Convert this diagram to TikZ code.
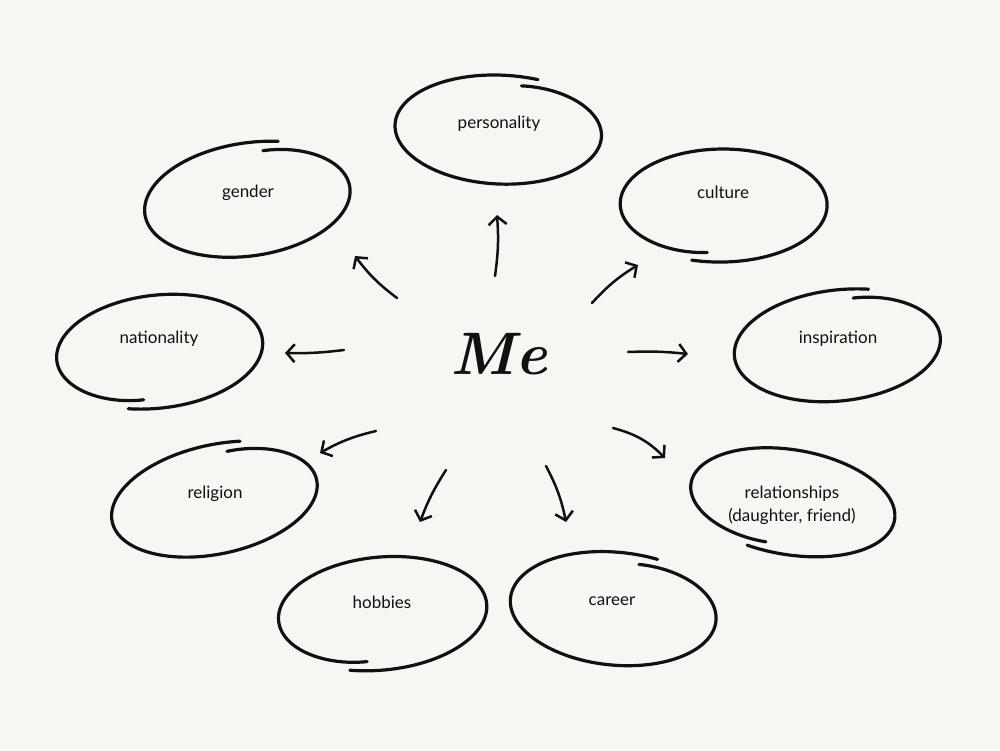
\documentclass[tikz,border=0pt]{standalone}
\usepackage{fontspec}
\usepackage{tikz}
\usetikzlibrary{arrows.meta}
\newfontfamily\topicfont{Lato}
\definecolor{paper}{RGB}{247,246,243}
\definecolor{ink}{RGB}{17,17,17}
\tikzset{
  loopline/.style={draw=ink, line width=3.2pt, line cap=round, line join=round},
  spoke/.style={draw=ink, line width=2.5pt, line cap=round, line join=round,
    -{Straight Barb[length=8pt,width=18pt,line width=2.5pt]}},
  topic/.style={font=\topicfont\fontsize{17}{23}\selectfont, text=ink, align=center},
}
% hand drawn loop: cx, cy, a, b, rot, start, end, start bulge, end bulge
\newcommand{\sketchloop}[9]{%
  \begin{scope}[shift={(#1,#2)}, rotate=#5]
    \draw[loopline] plot[domain=0:1, samples=160, variable=\u, smooth]
      ({(1+(#8)*(1-\u)^10+(#9)*\u^10)*#3*cos(#6+(#7-#6)*\u)},
       {(1+(#8)*(1-\u)^10+(#9)*\u^10)*#4*sin(#6+(#7-#6)*\u)});
  \end{scope}}

\begin{document}
\begin{tikzpicture}[x=1pt, y=1pt]
  \fill[paper] (0,0) rectangle (1000,750);
  \useasboundingbox (0,0) rectangle (1000,750);

  \node[text=ink, font=\fontsize{60}{64}\selectfont\bfseries\itshape] (me) at (499,396) {Me};

  \node[topic] (personality) at (499,626) {personality};
  \node[topic] (gender) at (248,557) {gender};
  \node[topic] (culture) at (723,558) {culture};
  \node[topic] (nationality) at (159,411) {nationality};
  \node[topic] (inspiration) at (838,411) {inspiration};
  \node[topic] (religion) at (215,256) {religion};
  \node[topic] (relationships) at (792,245) {relationships\\(daughter, friend)};
  \node[topic] (hobbies) at (382,148) {hobbies};
  \node[topic] (career) at (612,149) {career};

  \sketchloop{499}{620}{104}{54}{-3}{77}{-290}{-0.14}{0.03}
  \sketchloop{248}{550}{104}{56}{8}{76}{-291}{-0.14}{0.03}
  \sketchloop{723}{545}{104}{56}{0}{-107}{260}{0.03}{-0.14}
  \sketchloop{159}{399}{104}{56}{6}{-110}{257}{0.03}{-0.14}
  \sketchloop{838}{404}{104}{55}{6}{77}{-290}{-0.14}{0.03}
  \sketchloop{215}{250}{105}{54}{12}{76}{-290}{-0.14}{0.03}
  \sketchloop{792}{248}{104}{52}{-10}{-110}{258}{0.03}{-0.14}
  \sketchloop{382}{137}{105}{56}{5}{-110}{258}{0.03}{-0.14}
  \sketchloop{614}{141}{104}{56}{-6}{77}{-291}{-0.14}{0.03}

  \coordinate (personality-tail) at (495,474);
  \coordinate (personality-tip) at (497,535);
  \coordinate (gender-tail) at (397,452);
  \coordinate (gender-tip) at (355,494);
  \coordinate (culture-tail) at (592,447);
  \coordinate (culture-tip) at (638,485);
  \coordinate (nationality-tail) at (344,400);
  \coordinate (nationality-tip) at (285,397);
  \coordinate (inspiration-tail) at (628,398);
  \coordinate (inspiration-tip) at (688,396);
  \coordinate (religion-tail) at (376,319);
  \coordinate (religion-tip) at (320,297);
  \coordinate (relationships-tail) at (613,322);
  \coordinate (relationships-tip) at (665,292);
  \coordinate (hobbies-tail) at (446,280);
  \coordinate (hobbies-tip) at (420,228);
  \coordinate (career-tail) at (546,284);
  \coordinate (career-tip) at (566,228);

  \draw[spoke] (personality-tail) to[bend right=6] (personality-tip);
  \draw[spoke] (gender-tail) to[bend left=8] (gender-tip);
  \draw[spoke] (culture-tail) to[bend left=8] (culture-tip);
  \draw[spoke] (nationality-tail) to[bend left=4] (nationality-tip);
  \draw[spoke] (inspiration-tail) to[bend left=4] (inspiration-tip);
  \draw[spoke] (religion-tail) to[bend right=8] (religion-tip);
  \draw[spoke] (relationships-tail) to[bend left=15] (relationships-tip);
  \draw[spoke] (hobbies-tail) to[bend right=6] (hobbies-tip);
  \draw[spoke] (career-tail) to[bend left=8] (career-tip);
\end{tikzpicture}
\end{document}
